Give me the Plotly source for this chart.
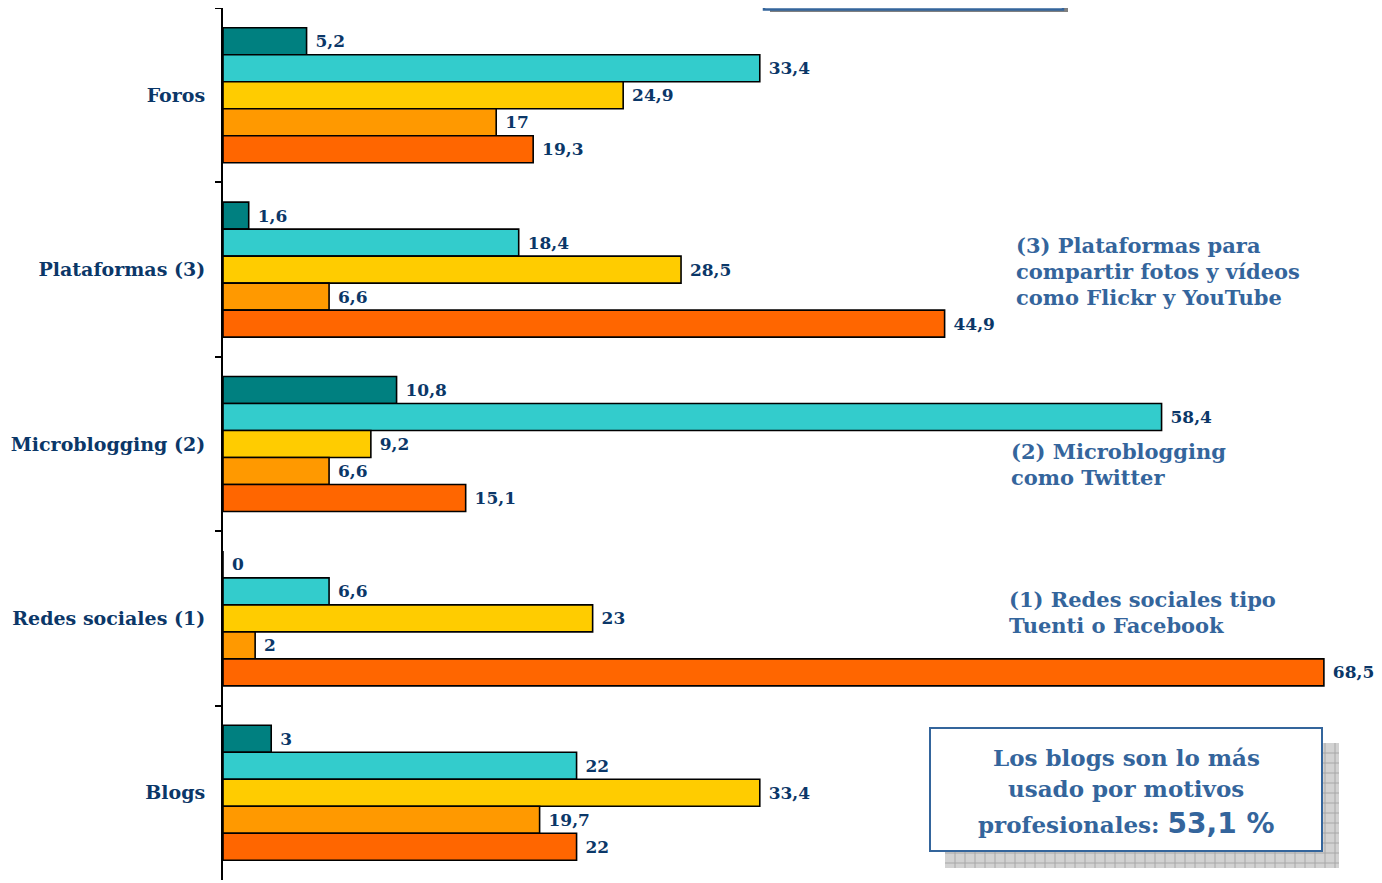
import plotly.graph_objects as go

categories = ["Foros", "Plataformas (3)", "Microblogging (2)", "Redes sociales (1)", "Blogs"]
series_names = ["Serie 1", "Serie 2", "Serie 3", "Serie 4", "Serie 5"]
serie1 = [5.2, 1.6, 10.8, 0, 3]
serie2 = [33.4, 18.4, 58.4, 6.6, 22]
serie3 = [24.9, 28.5, 9.2, 23, 33.4]
serie4 = [17, 6.6, 6.6, 2, 19.7]
serie5 = [19.3, 44.9, 15.1, 68.5, 22]
series_values = [serie1, serie2, serie3, serie4, serie5]
colors = ["#008080", "#33CCCC", "#FFCC00", "#FF9900", "#FF6600"]

note3 = ["(3) Plataformas para", "compartir fotos y vídeos", "como Flickr y YouTube"]
note2 = ["(2) Microblogging", "como Twitter"]
note1 = ["(1) Redes sociales tipo", "Tuenti o Facebook"]
box_lines = ["Los blogs son lo más", "usado por motivos",
             "profesionales: <span style='font-family:DejaVu Sans;font-size:28px'>53,1 %</span>"]

FONT = "DejaVu Serif"
NAVY = "#0B3768"
STEEL = "#34659C"

OFF = 8  # page body margin
W, H = 1382 - OFF, 883 - OFF
L, R, T, B = 223 - OFF, 34, 0, 3
PW = W - L - R
PH = H - T - B


def px(x):
    return (x - OFF - L) / PW


def py(y):
    return (H - B - (y - OFF)) / PH


def fmt(v):
    return "\u00a0" + f"{v:g}".replace(".", ",")


fig = go.Figure()
for name, vals, col in zip(series_names, series_values, colors):
    fig.add_trace(go.Bar(
        y=categories, x=vals, name=name, orientation="h",
        marker=dict(color=col, line=dict(color="#000000", width=1.6)),
        text=[fmt(v) for v in vals], textposition="outside",
        textfont=dict(family=FONT, size=17, color=NAVY, weight="bold"),
        cliponaxis=False, constraintext="none",
    ))

shapes = []
# top legend box (cut off by the page edge)
shapes.append(dict(type="rect", xref="paper", yref="paper",
                   x0=px(770), x1=px(1068), y0=py(12), y1=py(-20),
                   fillcolor="#808080", line=dict(width=0), layer="above"))
shapes.append(dict(type="rect", xref="paper", yref="paper",
                   x0=px(764), x1=px(1063), y0=py(9.5), y1=py(-26),
                   fillcolor="#FFFFFF", line=dict(color=STEEL, width=2.5), layer="above"))
# bottom-right box shadow with grid pattern
sx0, sx1, sy0, sy1 = 945, 1339, 743, 868
shapes.append(dict(type="rect", xref="paper", yref="paper",
                   x0=px(sx0), x1=px(sx1), y0=py(sy1), y1=py(sy0),
                   fillcolor="#D2D2D2", line=dict(width=0), layer="above"))
gx = sx0 + 10
while gx < sx1:
    shapes.append(dict(type="line", xref="paper", yref="paper",
                       x0=px(gx), x1=px(gx), y0=py(sy1), y1=py(sy0),
                       line=dict(color="#A8A8A8", width=1), layer="above"))
    gx += 10
gy = sy0 + 10
while gy < sy1:
    shapes.append(dict(type="line", xref="paper", yref="paper",
                       x0=px(sx0), x1=px(sx1), y0=py(gy), y1=py(gy),
                       line=dict(color="#A8A8A8", width=1), layer="above"))
    gy += 10
shapes.append(dict(type="rect", xref="paper", yref="paper",
                   x0=px(930), x1=px(1322), y0=py(851), y1=py(728),
                   fillcolor="#FFFFFF", line=dict(color=STEEL, width=2), layer="above"))

annotations = []


def add_lines(lines, x0, y_first, step, size, anchor="left"):
    for i, t in enumerate(lines):
        annotations.append(dict(text=t, x=px(x0), y=py(y_first + i * step),
                                xref="paper", yref="paper", xanchor=anchor,
                                yanchor="middle", align=anchor, showarrow=False,
                                font=dict(family=FONT, size=size, color=STEEL,
                                          weight="bold")))


add_lines(note3, 1014, 246, 25.5, 21)
add_lines(note2, 1009, 452, 25.5, 21)
add_lines(note1, 1007, 600, 25.5, 21)
for t, yy in zip(box_lines, [757, 788, 823]):
    add_lines([t], 1126, yy, 0, 23, anchor="center")

fig.update_layout(
    width=W, height=H,
    margin=dict(l=L, r=R, t=T, b=B),
    plot_bgcolor="#FFFFFF", paper_bgcolor="#FFFFFF",
    barmode="group", bargap=0.226, bargroupgap=0,
    showlegend=False,
    shapes=shapes, annotations=annotations,
    xaxis=dict(range=[0, 70], showgrid=False, zeroline=False, showline=False,
               showticklabels=False, ticks=""),
    yaxis=dict(autorange="reversed", showgrid=False, zeroline=False,
               showline=True, linecolor="#000000", linewidth=2,
               ticks="outside", ticklen=6, tickwidth=2, tickcolor="#000000",
               tickson="boundaries", ticklabelstandoff=12,
               tickfont=dict(family=FONT, size=19, color=NAVY, weight="bold")),
)

fig.write_html("out.html")
